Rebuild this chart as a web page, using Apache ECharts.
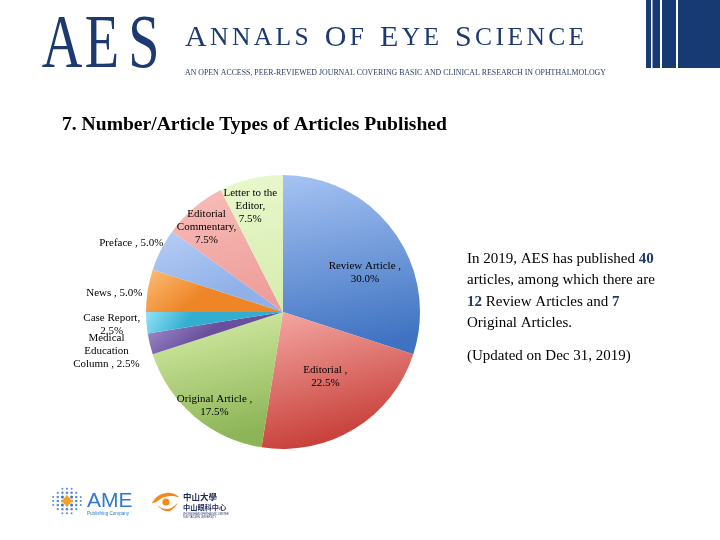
<!DOCTYPE html>
<html>
<head>
<meta charset="utf-8">
<script src="https://cdn.jsdelivr.net/npm/echarts@6/dist/echarts.min.js"></script>
<style>html,body{margin:0;padding:0;background:#fff}#c{width:720px;height:540px}</style>
</head>
<body>
<div id="c"></div>
<script>
// ---- data ----
var categories = ['Review Article', 'Editorial', 'Original Article', 'Medical Education Column',
  'Case Report', 'News', 'Preface', 'Editorial Commentary', 'Letter to the Editor'];
var counts = [12, 9, 7, 1, 1, 2, 2, 3, 3];
var labelTemplates = ['Review Article ,\n%p', 'Editorial ,\n%p', 'Original Article ,\n%p',
  'Medical\nEducation\nColumn , %p', 'Case Report,\n%p', 'News , %p', 'Preface , %p',
  'Editorial\nCommentary,\n%p', 'Letter to the\nEditor,\n%p'];
var chartTitle = '7. Number/Article Types of Articles Published';
var updatedNote = '(Updated on Dec 31, 2019)';

// ---- styles ----
var sliceColors = [
  ['#a6c3f3', '#3f73c2'],
  ['#f6aaa6', '#c8403a'],
  ['#daf0ab', '#8db557'],
  ['#ab9bd6', '#6a4f9c'],
  ['#92e2f8', '#33aed0'],
  ['#fbbd78', '#ee8526'],
  ['#b7cdf5', '#8fb0e8'],
  ['#f8bdb9', '#ee9e9a'],
  ['#e9f8cd', '#d5ecae']
];
var labelOffsets = [[24, 3], [5, 4], [-22, 39], [-107, 22], [-100, 7], [-98, -8], [-88, -36], [-30, -31], [-16, -36]];

var chart = echarts.init(document.getElementById('c'), null, {renderer: 'canvas'});
var total = counts.reduce(function (a, b) { return a + b; }, 0);
var navy = '#1c3a70';
var serif = 'Liberation Serif';

var graphics = [];
// top-right bars
[[646, 5], [652.5, 7.5], [662, 14], [678, 42]].forEach(function (b) {
  graphics.push({type: 'rect', shape: {x: b[0], y: 0, width: b[1], height: 68}, style: {fill: '#173a73'}, silent: true});
});
// AES letters
[['A', 62], ['E', 102], ['S', 144]].forEach(function (l) {
  graphics.push({type: 'text', x: l[1], y: 47, scaleX: 0.74, style: {text: l[0], fill: navy, font: '76px ' + serif, textAlign: 'center', textVerticalAlign: 'middle'}, silent: true});
});
// journal name in spaced small caps
(function () {
  var words = ['ANNALS', 'OF', 'EYE', 'SCIENCE'];
  var parts = [];
  words.forEach(function (w, wi) {
    for (var k = 0; k < w.length; k++) {
      var big = k === 0;
      var last = k === w.length - 1;
      var sty = (big ? 'b' : 's') + (last && wi < words.length - 1 ? 'w' : '');
      parts.push('{' + sty + '|' + w[k] + '}');
    }
  });
  var pad = 3.4, wpad = 16;
  graphics.push({type: 'text', x: 185, y: 53.5, style: {
    text: parts.join(''), textVerticalAlign: 'bottom', fill: navy,
    rich: {
      b: {fontFamily: serif, fontSize: 30, fill: navy, padding: [0, pad, 0, 0]},
      s: {fontFamily: serif, fontSize: 25.5, fill: navy, padding: [0, pad, 0, 0]},
      sw: {fontFamily: serif, fontSize: 25.5, fill: navy, padding: [0, wpad, 0, 0]},
      bw: {fontFamily: serif, fontSize: 30, fill: navy, padding: [0, wpad, 0, 0]}
    }
  }, silent: true});
})();
graphics.push({type: 'text', x: 185, y: 73, style: {
  text: 'AN OPEN ACCESS, PEER-REVIEWED JOURNAL COVERING BASIC AND CLINICAL RESEARCH IN OPHTHALMOLOGY',
  font: '7.85px ' + serif, fill: '#2b3d60', textVerticalAlign: 'middle'
}, silent: true});
// title
graphics.push({type: 'text', x: 62, y: 125, style: {text: chartTitle, font: 'bold 19.6px ' + serif, fill: '#000', textVerticalAlign: 'middle'}, silent: true});
// right description
graphics.push({type: 'text', x: 467, y: 248.5, style: {
  text: 'In 2019, AES has published {b|' + total + '}\narticles, among which there are\n{b|' + counts[0] + '} Review Articles and {b|' + counts[2] + '}\nOriginal Articles.',
  font: '15px ' + serif, fill: '#000', lineHeight: 21.3, textVerticalAlign: 'top',
  rich: {b: {fontFamily: serif, fontSize: 15, fontWeight: 'bold', fill: '#1f3a68', lineHeight: 21.3}}
}, silent: true});
graphics.push({type: 'text', x: 467, y: 356, style: {text: updatedNote, font: '15px ' + serif, fill: '#000', textVerticalAlign: 'middle'}, silent: true});

// AME logo dots
(function () {
  var cx = 67, cy = 501;
  for (var i = -3; i <= 3; i++) {
    for (var j = -3; j <= 3; j++) {
      var d = Math.sqrt(i * i + j * j);
      if (d > 3.3) continue;
      var px = cx + i * 4.6, py = cy + j * 4.1;
      var rr = 1.9 - d * 0.28;
      var col = d < 1.1 ? '#f0a030' : (d < 2 ? '#3a78c8' : '#5a8fd6');
      graphics.push({type: 'circle', shape: {cx: px, cy: py, r: Math.max(rr, 0.9)}, style: {fill: col}, silent: true});
    }
  }
  graphics.push({type: 'circle', shape: {cx: cx, cy: cy, r: 4}, style: {fill: '#f0a030'}, silent: true});
})();
graphics.push({type: 'text', x: 87, y: 501, style: {text: 'AME', font: '21px Liberation Sans', fill: '#2f7ad0', textVerticalAlign: 'middle'}, silent: true});
graphics.push({type: 'text', x: 87, y: 514, style: {text: 'Publishing Company', font: '4.6px Liberation Sans', fill: '#2f7ad0', textVerticalAlign: 'middle'}, silent: true});
// Sun Yat-sen eye logo
graphics.push({type: 'polygon', shape: {points: [[152, 503], [158, 496], [166, 493], [173, 493.5], [179, 497], [171, 496], [163, 497.5], [156, 502]], smooth: 0.3}, style: {fill: '#f08a1c'}, silent: true});
graphics.push({type: 'polygon', shape: {points: [[157, 505], [163, 510], [170, 511], [178, 503], [170, 508.5], [163, 508.5]], smooth: 0.3}, style: {fill: '#f08a1c'}, silent: true});
graphics.push({type: 'circle', shape: {cx: 166, cy: 502, r: 3.6}, style: {fill: '#f08a1c'}, silent: true});
graphics.push({type: 'text', x: 183, y: 497, style: {text: '中山大學', font: 'bold 8.5px "Noto Sans CJK TC"', fill: '#1d2a5a', textVerticalAlign: 'middle'}, silent: true});
graphics.push({type: 'text', x: 183, y: 507.5, style: {text: '中山眼科中心', font: 'bold 7.2px "Noto Sans CJK SC"', fill: '#1d2a5a', textVerticalAlign: 'middle'}, silent: true});
graphics.push({type: 'text', x: 183, y: 514, style: {text: 'ZHONGSHAN OPHTHALMIC CENTER', font: '2.6px Liberation Sans', fill: '#1d2a5a', textVerticalAlign: 'middle'}, silent: true});
graphics.push({type: 'text', x: 183, y: 517.5, style: {text: 'SUN YAT-SEN UNIVERSITY', font: '2.6px Liberation Sans', fill: '#1d2a5a', textVerticalAlign: 'middle'}, silent: true});

var option = {
  backgroundColor: '#fff',
  animation: false,
  graphic: graphics,
  series: [{
    type: 'pie',
    center: [283, 312],
    radius: 137,
    startAngle: 90,
    clockwise: true,
    avoidLabelOverlap: false,
    silent: true,
    emphasis: {disabled: true},
    data: categories.map(function (n, i) {
      return {
        name: n, value: counts[i],
        itemStyle: {color: {type: 'linear', x: 0, y: 0, x2: 0.25, y2: 1, colorStops: [{offset: 0, color: sliceColors[i][0]}, {offset: 1, color: sliceColors[i][1]}]}}
      };
    }),
    itemStyle: {borderWidth: 0},
    label: {
      show: true, position: 'inside', color: '#000', fontFamily: serif, fontSize: 11, lineHeight: 13,
      align: 'center', textBorderWidth: 0,
      formatter: function (p) { return labelTemplates[p.dataIndex].replace('%p', p.percent.toFixed(1) + '%'); }
    },
    labelLine: {show: false},
    labelLayout: function (p) {
      var o = labelOffsets[p.dataIndex];
      return {dx: o[0], dy: o[1]};
    }
  }]
};
chart.setOption(option);
</script>
</body>
</html>
